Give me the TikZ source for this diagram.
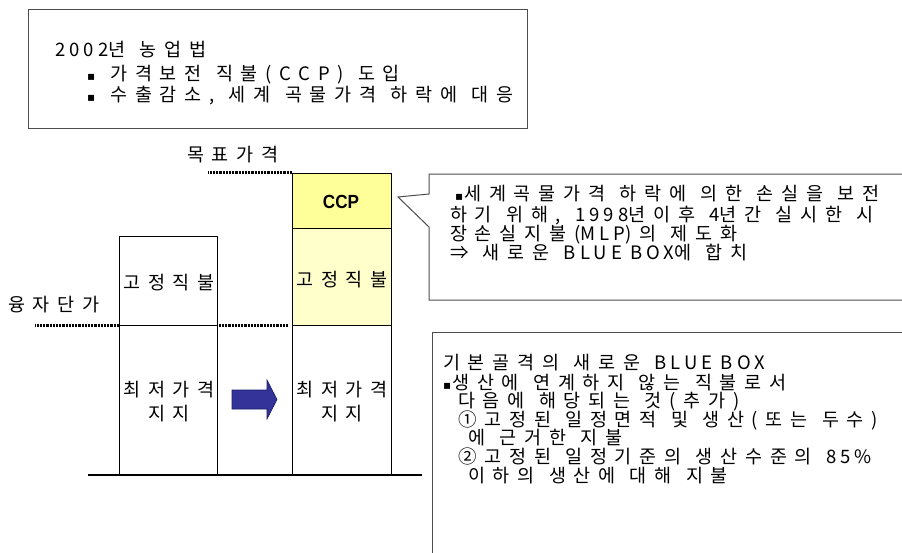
\documentclass[tikz,border=0pt]{standalone}
\usepackage{fontspec}
\newfontfamily\kr{Noto Sans CJK KR}[LetterSpace=42, WordSpace=1.2]
\newfontfamily\lat{Noto Sans CJK KR}[LetterSpace=22]
\newfontfamily\sym{DejaVu Sans}
\newfontfamily\ccpf{Liberation Sans Bold}[FakeStretch=0.9]
\definecolor{boxgray}{HTML}{4D4D4D}
\definecolor{ccpyellow}{HTML}{FFFF99}
\definecolor{fixyellow}{HTML}{FFFFCC}
\definecolor{arrowblue}{HTML}{333399}
\definecolor{arrowedge}{HTML}{1A1A66}
\newcommand{\bul}{{\sym\fontsize{12}{12}\selectfont ▪}}
\newcommand{\la}[1]{{\lat #1}}
\tikzset{
  txt/.style={inner sep=0, anchor=base west, font=\kr\fontsize{18.5}{22}\selectfont},
  ctxt/.style={inner sep=0, anchor=base, font=\kr\fontsize{18.5}{22}\selectfont},
  barbox/.style={draw=black, line width=0.8pt, minimum width=98, anchor=north west, inner sep=0},
  dotline/.style={line width=3pt, dash pattern=on 2.2pt off 1pt},
  frame/.style={draw=boxgray, line width=1pt}
}
\begin{document}
\begin{tikzpicture}[x=1pt, y=-1pt]
\clip (0,0) rectangle (902,552);
\fill[white] (0,0) rectangle (902,552);

% top box
\node[frame, minimum width=499, minimum height=119, anchor=north west, inner sep=0] (top) at (28,9) {};
\node[txt] (t1) at (55,56) {\la{2002}년 농업법};
\node[txt] (t2) at (87,80) {\bul\hspace{15pt}가격보전 직불(CCP) 도입};
\node[txt] (t3) at (87,101) {\bul\hspace{15pt}수출감소, 세계 곡물가격 하락에 대응};

% left bar
\node[barbox, minimum height=89] (lb1) at (119,236) {};
\node[barbox, minimum height=150] (lb2) at (119,325) {};
\node[ctxt] (lb1t) at (169,289) {고정직불};
\node[ctxt] (lb2t) at (169,396) {최저가격};
\node[ctxt] (lb2u) at (169,420) {지지};

% right bar
\node[barbox, minimum width=99, minimum height=55, fill=ccpyellow] (rb1) at (292,173) {};
\node[barbox, minimum width=99, minimum height=97, fill=fixyellow] (rb2) at (292,228) {};
\node[barbox, minimum width=99, minimum height=150] (rb3) at (292,325) {};
\node[inner sep=0, font=\ccpf\fontsize{19}{20}\selectfont] (ccp) at (341,202) {CCP};
\node[ctxt] (rb2t) at (342,286) {고정직불};
\node[ctxt] (rb3t) at (342,396) {최저가격};
\node[ctxt] (rb3u) at (342,420) {지지};

% baseline
\coordinate (bl) at (88,475);
\coordinate (br) at (422,475);
\draw[line width=2pt] (bl) -- (br);

% dotted guide lines
\draw[dotline] ([yshift=0.5]rb1.north west) -- ++(-84,0);
\draw[dotline] (lb2.north west) -- ++(-84,0);
\draw[dotline] ([xshift=1]lb2.north east) -- ([xshift=-4]rb3.north west);
\node[txt] (goal) at (187,161) {목표가격};
\node[txt] (loan) at (8,311) {융자단가};

% block arrow
\filldraw[fill=arrowblue, draw=arrowedge, line width=0.6pt]
  (232,390) -- (267,390) -- (267,380) -- (277,399.5) -- (267,419) -- (267,409) -- (232,409) -- cycle;

% callout 1
\draw[frame, fill=white] (429,174) -- (912,174) -- (912,300) -- (429,300) -- (429,227) -- (398,197) -- (429,194) -- cycle;
\node[txt] (c1) at (455,200) {\bul\hspace{1pt}세계곡물가격 하락에 의한 손실을 보전};
\node[txt] (c2) at (450,221) {하기 위해, \la{1998}년이후 \la{4}년간 실시한 시};
\node[txt] (c3) at (450,240) {장손실지불(\la{MLP})의 제도화};
\node[txt] (c4) at (450,259) {{\lat ⇒} 새로운 \la{BLUE BOX}에 합치};

% box 2
\draw[frame] (432,332) rectangle (912,570);
\node[txt] (b1) at (443,369) {기본골격의 새로운 \la{BLUE BOX}};
\node[txt] (b2) at (443,389) {\bul\hspace{1pt}생산에 연계하지 않는 직불로서};
\node[txt] (b3) at (458,407) {다음에 해당되는 것(추가)};
\node[txt] (b4) at (458,426) {①고정된 일정면적 및 생산(또는 두수)};
\node[txt] (b5) at (468,444) {에 근거한 지불};
\node[txt] (b6) at (458,463) {②고정된 일정기준의 생산수준의 \la{85\%}};
\node[txt] (b7) at (468,482) {이하의 생산에 대해 지불};
\end{tikzpicture}
\end{document}
